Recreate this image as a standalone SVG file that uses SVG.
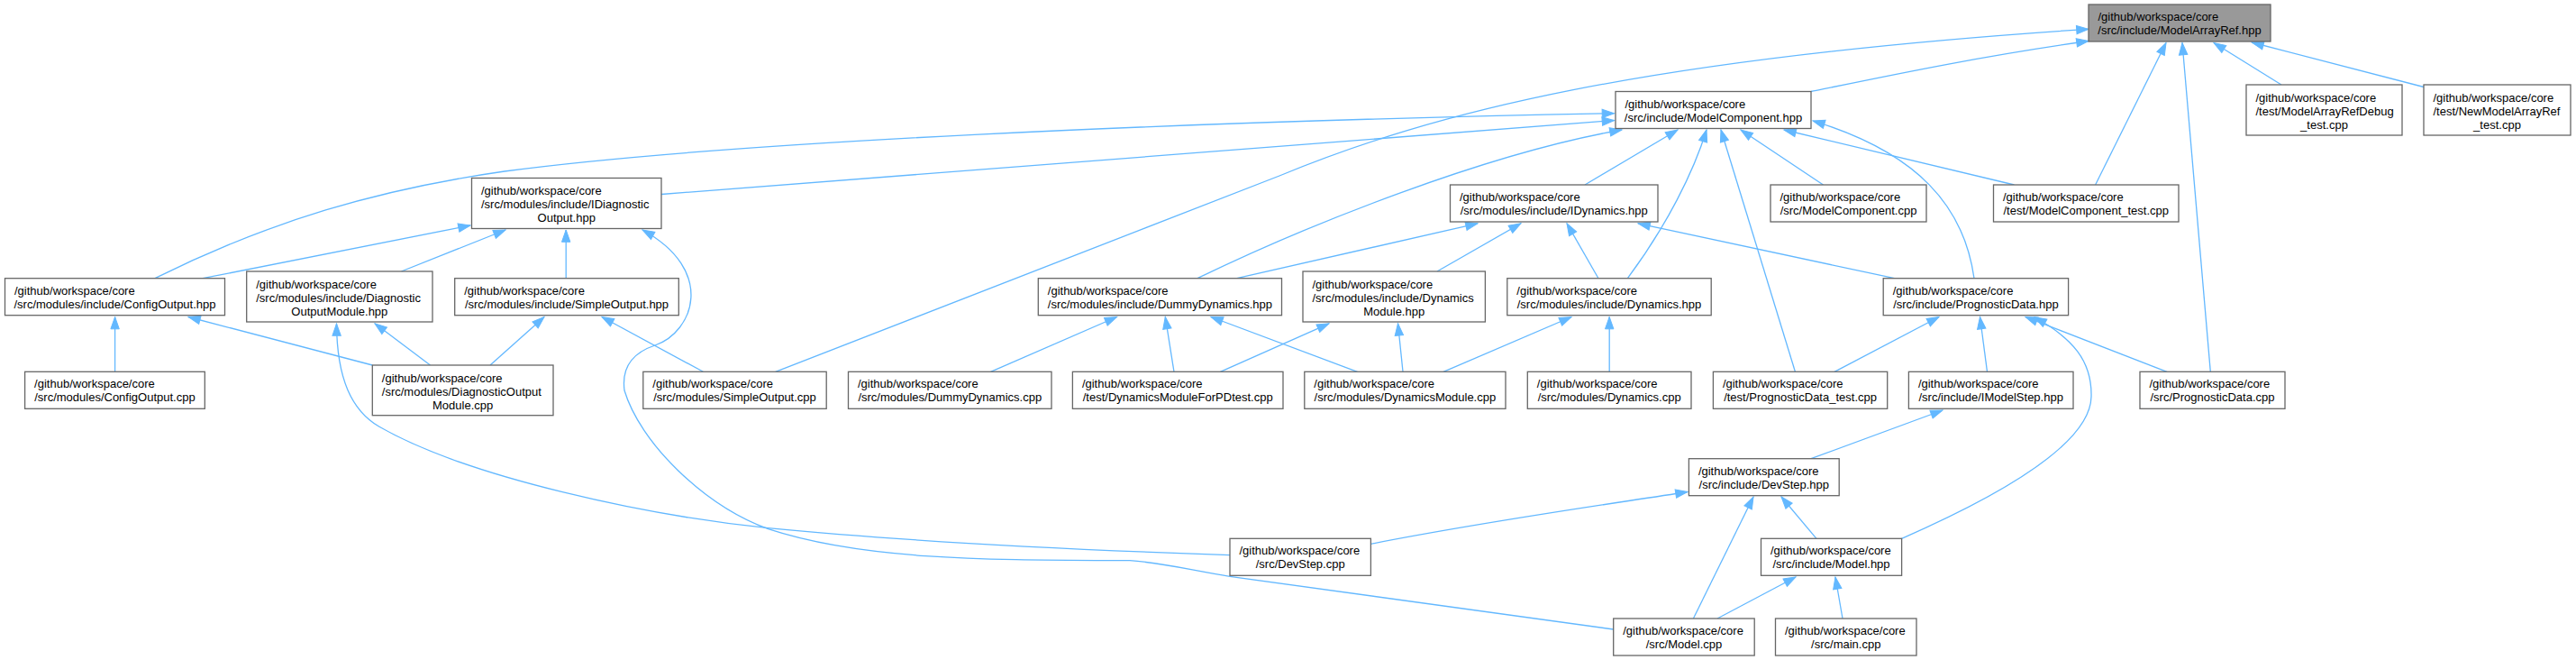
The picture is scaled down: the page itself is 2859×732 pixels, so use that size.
<svg xmlns="http://www.w3.org/2000/svg" width="2859" height="732" viewBox="0 0 2859 732">
<style>
.node rect{fill:#ffffff;stroke:#666666;stroke-width:1.3}
#n_A rect{fill:#999999;stroke:#666666}
.node text{font-family:"Liberation Sans",Arial,Helvetica,sans-serif;font-size:13px;fill:#000000}
.node text.m{text-anchor:middle}
.edges path{fill:none;stroke:#63b8ff;stroke-width:1.3;marker-end:url(#ah)}
</style>
<defs>
<marker id="ah" markerUnits="userSpaceOnUse" markerWidth="16" markerHeight="12" viewBox="-1 -6 16 12" refX="13.3" refY="0" orient="auto" overflow="visible">
<path d="M0,-4.7L13.3,0L0,4.7z" fill="#63b8ff" stroke="#63b8ff" stroke-width="1"/>
</marker>
</defs>
<rect width="2859" height="732" fill="#ffffff"/>
<g id="edges" class="edges">
<path d="M860.7,412.3 L1420,195 C1590,125 1820,65 2318,32.3"/>
<path d="M2010,101.5 C2100,83 2200,62 2318,45.5"/>
<path d="M2325.6,205 L2404,47.5"/>
<path d="M2453.3,412.3 L2422,47.5"/>
<path d="M2532,94 L2457,47.5"/>
<path d="M2690,96.5 L2499,47"/>
<path d="M172,308.7 C300,245 420,210 560,190 C800,158 1300,135 1791.5,125.7"/>
<path d="M734,215.5 L1791.5,133.5"/>
<path d="M1329,308.7 C1450,250 1650,170 1800,144"/>
<path d="M1759,205 L1862,144"/>
<path d="M1806.4,308.7 C1850,250 1880,190 1894,144"/>
<path d="M1992.4,412.3 L1910,144"/>
<path d="M2023.5,205 L1932,144"/>
<path d="M2235.5,205 L1980,144"/>
<path d="M2191,308.7 C2180,230 2130,170 2012,134"/>
<path d="M225,308.7 L522,250"/>
<path d="M445.4,301 L561,255"/>
<path d="M628.2,308.7 L628.2,255"/>
<path d="M1790.7,698 L1365,639.3 C1320,632 1290,624 1254,621.7 C1100,621 960,622 852.6,586.7 C780,560 710,490 693,433 C690,410 700,392 727,383 C770,368 795,300 713,255"/>
<path d="M1365,615.7 C1200,610 1000,600 852.6,585.7 C720,572 520,530 421,473.3 C390,455 374,420 373.5,359"/>
<path d="M544,405 L604,351.5"/>
<path d="M780.4,412.3 L668,351.5"/>
<path d="M127.6,412.3 L127.6,351.5"/>
<path d="M413.3,405 L209,351.5"/>
<path d="M477.5,405 L416,358.8"/>
<path d="M1099.5,412.3 L1239.5,351.5"/>
<path d="M1303,412.3 L1293.3,351.5"/>
<path d="M1506.5,412.3 L1344,351.5"/>
<path d="M1354.4,412.3 L1475,358.8"/>
<path d="M1557,412.3 L1551.5,358.8"/>
<path d="M1602,412.3 L1744,351.5"/>
<path d="M1786.2,412.3 L1786.2,351.5"/>
<path d="M1372.7,308.7 L1640,247.8"/>
<path d="M1595,301 L1688,247.8"/>
<path d="M1774,308.7 L1739,247.8"/>
<path d="M2102.6,308.7 L1818,247.8"/>
<path d="M2036,412.3 L2152,351.5"/>
<path d="M2205.5,412.3 L2197.5,351.5"/>
<path d="M2110.6,597.3 C2230,545 2320,490 2321,440 C2322,400 2300,375 2258,351.8"/>
<path d="M2405,412.3 L2248,351.5"/>
<path d="M2010,508.7 L2156,455"/>
<path d="M1521.4,603.3 C1650,578 1780,560 1873,545.5"/>
<path d="M1879.4,686 L1946,551"/>
<path d="M2016,597.3 L1977,551"/>
<path d="M1906,686 L1993,640"/>
<path d="M2045,686 L2037,640"/>
</g>
<g id="n_A" class="node"><rect x="2318" y="5" width="202" height="41"/><text x="2328.5" y="23">/github/workspace/core</text><text class="m" x="2419" y="38">/src/include/ModelArrayRef.hpp</text></g>
<g id="n_MC" class="node"><rect x="1793" y="101.5" width="217" height="41"/><text x="1803.5" y="119.5">/github/workspace/core</text><text class="m" x="1901.5" y="134.5">/src/include/ModelComponent.hpp</text></g>
<g id="n_MARD" class="node"><rect x="2493" y="94" width="173" height="56"/><text x="2503.5" y="112.5">/github/workspace/core</text><text x="2503.5" y="127.5">/test/ModelArrayRefDebug</text><text class="m" x="2579.5" y="142.5">_test.cpp</text></g>
<g id="n_NMAR" class="node"><rect x="2690" y="94" width="163" height="56"/><text x="2700.5" y="112.5">/github/workspace/core</text><text x="2700.5" y="127.5">/test/NewModelArrayRef</text><text class="m" x="2771.5" y="142.5">_test.cpp</text></g>
<g id="n_ID" class="node"><rect x="523.5" y="197.5" width="210.5" height="56"/><text x="534" y="216">/github/workspace/core</text><text x="534" y="231">/src/modules/include/IDiagnostic</text><text class="m" x="628.75" y="246">Output.hpp</text></g>
<g id="n_IDY" class="node"><rect x="1609.5" y="205" width="230.5" height="41"/><text x="1620" y="223">/github/workspace/core</text><text class="m" x="1724.75" y="238">/src/modules/include/IDynamics.hpp</text></g>
<g id="n_MCcpp" class="node"><rect x="1965" y="205" width="173" height="41"/><text x="1975.5" y="223">/github/workspace/core</text><text class="m" x="2051.5" y="238">/src/ModelComponent.cpp</text></g>
<g id="n_MCT" class="node"><rect x="2212.5" y="205" width="205.5" height="41"/><text x="2223" y="223">/github/workspace/core</text><text class="m" x="2315.25" y="238">/test/ModelComponent_test.cpp</text></g>
<g id="n_COh" class="node"><rect x="5.5" y="308.7" width="244" height="41"/><text x="16" y="326.7">/github/workspace/core</text><text class="m" x="127.5" y="341.7">/src/modules/include/ConfigOutput.hpp</text></g>
<g id="n_DOMh" class="node"><rect x="273.7" y="301" width="206.3" height="56"/><text x="284.2" y="319.5">/github/workspace/core</text><text x="284.2" y="334.5">/src/modules/include/Diagnostic</text><text class="m" x="376.85" y="349.5">OutputModule.hpp</text></g>
<g id="n_SOh" class="node"><rect x="504.7" y="308.7" width="248.6" height="41"/><text x="515.2" y="326.7">/github/workspace/core</text><text class="m" x="629" y="341.7">/src/modules/include/SimpleOutput.hpp</text></g>
<g id="n_DDh" class="node"><rect x="1152.3" y="308.7" width="270.2" height="41"/><text x="1162.8" y="326.7">/github/workspace/core</text><text class="m" x="1287.4" y="341.7">/src/modules/include/DummyDynamics.hpp</text></g>
<g id="n_DMh" class="node"><rect x="1446" y="301" width="202.4" height="56"/><text x="1456.5" y="319.5">/github/workspace/core</text><text x="1456.5" y="334.5">/src/modules/include/Dynamics</text><text class="m" x="1547.2" y="349.5">Module.hpp</text></g>
<g id="n_DYh" class="node"><rect x="1672.8" y="308.7" width="226.4" height="41"/><text x="1683.3" y="326.7">/github/workspace/core</text><text class="m" x="1786" y="341.7">/src/modules/include/Dynamics.hpp</text></g>
<g id="n_PDh" class="node"><rect x="2090.2" y="308.7" width="205.4" height="41"/><text x="2100.7" y="326.7">/github/workspace/core</text><text class="m" x="2192.9" y="341.7">/src/include/PrognosticData.hpp</text></g>
<g id="n_COc" class="node"><rect x="27.6" y="412.3" width="199.7" height="41"/><text x="38.1" y="430.3">/github/workspace/core</text><text class="m" x="127.45" y="445.3">/src/modules/ConfigOutput.cpp</text></g>
<g id="n_DOMc" class="node"><rect x="413.3" y="405" width="200.7" height="55.7"/><text x="423.8" y="423.5">/github/workspace/core</text><text x="423.8" y="438.5">/src/modules/DiagnosticOutput</text><text class="m" x="513.65" y="453.5">Module.cpp</text></g>
<g id="n_SOc" class="node"><rect x="713.8" y="412.3" width="203.4" height="41"/><text x="724.3" y="430.3">/github/workspace/core</text><text class="m" x="815.5" y="445.3">/src/modules/SimpleOutput.cpp</text></g>
<g id="n_DDc" class="node"><rect x="941.5" y="412.3" width="225.5" height="41"/><text x="952" y="430.3">/github/workspace/core</text><text class="m" x="1054.25" y="445.3">/src/modules/DummyDynamics.cpp</text></g>
<g id="n_DMFPD" class="node"><rect x="1190.4" y="412.3" width="233.6" height="41"/><text x="1200.9" y="430.3">/github/workspace/core</text><text class="m" x="1307.2" y="445.3">/test/DynamicsModuleForPDtest.cpp</text></g>
<g id="n_DMc" class="node"><rect x="1447.8" y="412.3" width="223.2" height="41"/><text x="1458.3" y="430.3">/github/workspace/core</text><text class="m" x="1559.4" y="445.3">/src/modules/DynamicsModule.cpp</text></g>
<g id="n_DYc" class="node"><rect x="1695.3" y="412.3" width="181.7" height="41"/><text x="1705.8" y="430.3">/github/workspace/core</text><text class="m" x="1786.15" y="445.3">/src/modules/Dynamics.cpp</text></g>
<g id="n_PDT" class="node"><rect x="1901.4" y="412.3" width="193.3" height="41"/><text x="1911.9" y="430.3">/github/workspace/core</text><text class="m" x="1998.05" y="445.3">/test/PrognosticData_test.cpp</text></g>
<g id="n_IMS" class="node"><rect x="2118.4" y="412.3" width="182.6" height="41"/><text x="2128.9" y="430.3">/github/workspace/core</text><text class="m" x="2209.7" y="445.3">/src/include/IModelStep.hpp</text></g>
<g id="n_PDc" class="node"><rect x="2375" y="412.3" width="161" height="41"/><text x="2385.5" y="430.3">/github/workspace/core</text><text class="m" x="2455.5" y="445.3">/src/PrognosticData.cpp</text></g>
<g id="n_DSh" class="node"><rect x="1874.4" y="508.7" width="166.8" height="41"/><text x="1884.9" y="526.7">/github/workspace/core</text><text class="m" x="1957.8" y="541.7">/src/include/DevStep.hpp</text></g>
<g id="n_DSc" class="node"><rect x="1365" y="597.3" width="156.4" height="41"/><text x="1375.5" y="615.3">/github/workspace/core</text><text class="m" x="1443.2" y="630.3">/src/DevStep.cpp</text></g>
<g id="n_Mh" class="node"><rect x="1954.5" y="597.3" width="156.1" height="41"/><text x="1965" y="615.3">/github/workspace/core</text><text class="m" x="2032.55" y="630.3">/src/include/Model.hpp</text></g>
<g id="n_Mc" class="node"><rect x="1790.7" y="686" width="156.5" height="41"/><text x="1801.2" y="704">/github/workspace/core</text><text class="m" x="1868.95" y="719">/src/Model.cpp</text></g>
<g id="n_main" class="node"><rect x="1970.5" y="686" width="156.5" height="41"/><text x="1981" y="704">/github/workspace/core</text><text class="m" x="2048.75" y="719">/src/main.cpp</text></g>
</svg>
